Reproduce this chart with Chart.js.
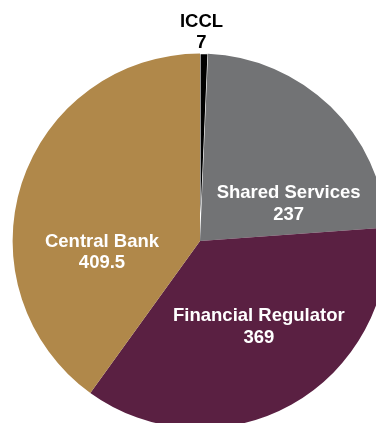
<!DOCTYPE html>
<html lang="en">
<head>
    <meta charset="UTF-8">
    <title>Budget split</title>
    <script src="https://cdn.jsdelivr.net/npm/chart.js"></script>
    <style>
        html, body { margin: 0; padding: 0; overflow: hidden; background: #fff; width: 376px; height: 423px; }
        #wrap { position: absolute; left: 0; top: 0; width: 400px; height: 441px; }
    </style>
</head>
<body>
    <div id="wrap">
        <canvas id="pieChart"></canvas>
    </div>

    <script>
        // slices, clockwise from 12 o'clock
        const categories = ['ICCL', 'Shared Services', 'Financial Regulator', 'Central Bank'];
        const amounts = [7, 237, 369, 409.5];
        const amountLabels = ['7', '237', '369', '409.5'];
        const sliceColors = ['#000000', '#727375', '#5a2042', '#b0884a'];

        // where each label's first baseline sits, as a fraction of the radius from the centre
        const labelSpots = [[0.008, -1.144], [0.473, -0.229], [0.314, 0.427], [-0.523, 0.030]];
        const textColors = ['#000000', '#ffffff', '#ffffff', '#ffffff'];

        const sliceLabels = {
            id: 'sliceLabels',
            afterDraw(chart) {
                const ctx = chart.ctx;
                const arcs = chart.getDatasetMeta(0).data;
                const cx = arcs[0].x, cy = arcs[0].y, r = arcs[0].outerRadius;
                ctx.save();
                ctx.font = 'bold 18.5px "Liberation Sans", Arial, sans-serif';
                ctx.textAlign = 'center';
                ctx.textBaseline = 'alphabetic';
                categories.forEach((name, i) => {
                    const x = cx + labelSpots[i][0] * r;
                    const y = cy + labelSpots[i][1] * r;
                    ctx.fillStyle = textColors[i];
                    ctx.fillText(name, x, y);
                    ctx.fillText(amountLabels[i], x, y + 21.5);
                });
                ctx.restore();
            }
        };

        new Chart(document.getElementById('pieChart'), {
            type: 'pie',
            data: {
                labels: categories,
                datasets: [{
                    data: amounts,
                    backgroundColor: sliceColors,
                    borderColor: '#ffffff',
                    borderWidth: [1.2, 0, 0, 0]
                }]
            },
            options: {
                responsive: true,
                maintainAspectRatio: false,
                animation: false,
                layout: { padding: { left: 12, right: 12, top: 53, bottom: 12 } },
                plugins: {
                    legend: { display: false },
                    tooltip: { enabled: false }
                }
            },
            plugins: [sliceLabels]
        });
    </script>
</body>
</html>
